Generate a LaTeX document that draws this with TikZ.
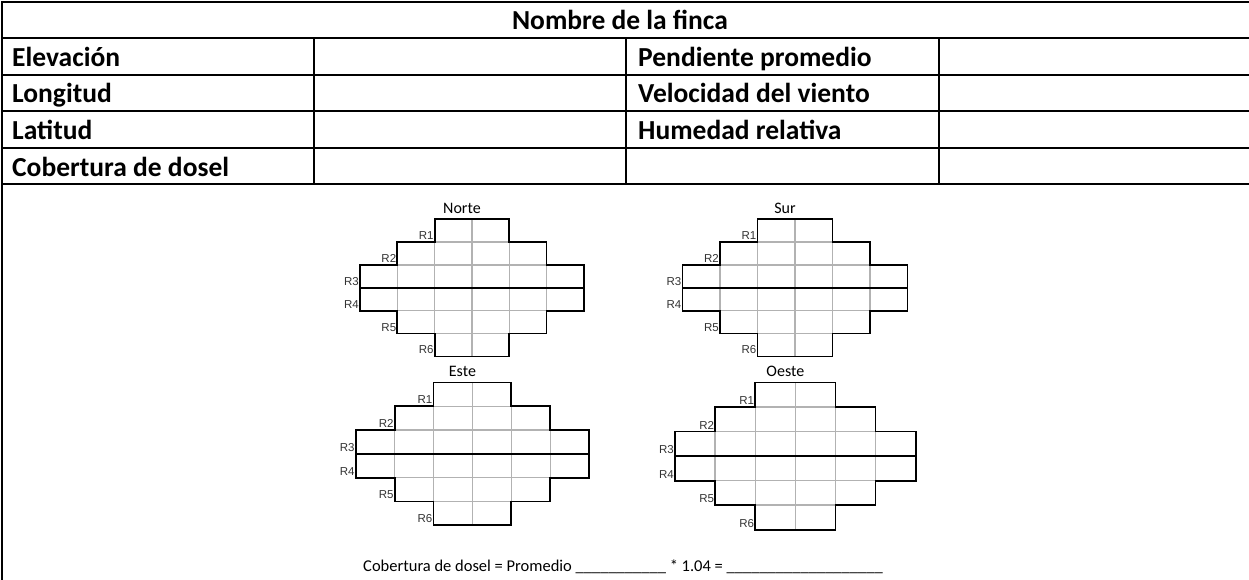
\documentclass[tikz,border=0pt]{standalone}
\usepackage{fontspec}
\setmainfont{Carlito}
\newfontfamily\arialfont{Liberation Sans}
\usetikzlibrary{matrix}
\newcommand*\rulewd{2pt}
\newcommand*\gridwd{1.5pt}
\tikzset{
    formline/.style  = {line width=\rulewd, line cap=rect},
    fieldlabel/.style = {anchor=base west, inner sep=0pt,
                    font=\fontsize{27.5}{30}\selectfont\bfseries},
    headlabel/.style = {fieldlabel, anchor=base},
    cell/.style   = {draw=gray!60, line width=\gridwd, rectangle,
                    inner sep=0pt, outer sep=0pt},
    blank/.style  = {draw=none},
    rowlabel/.style = {anchor=base east, inner sep=0pt, xshift=-1pt, yshift=2.5pt,
                    font=\arialfont\fontsize{11.5}{13}\selectfont, text=black!80},
    dirlabel/.style = {anchor=base, inner sep=0pt, xshift=-10pt, yshift=6pt,
                    font=\fontsize{16}{18}\selectfont},
    outline/.style = {line width=1.8pt, line join=miter},
    gridmatrix/.style = {
        matrix of nodes,
        nodes   = {cell},
        column sep=-\gridwd, row sep=-\gridwd,         % shared cell borders
        inner sep=0pt, outer sep=0pt, anchor=north west,
        ampersand replacement=\&,                      % matrix inside \foreach
        nodes in empty cells,                          % draw every entry
    },
  }
\begin{document}
\begin{tikzpicture}[x=1pt,y=-1pt]
        \useasboundingbox (0,0) rectangle (1249,580);

        % form table: rows and columns
        \foreach \y in {2,38.5,75,111.5,148,184.5} {
            \draw[formline] (2,\y) -- (1249,\y);
        }
        \draw[formline] (2,2) -- (2,580);
        \foreach \x in {314,626,939} {
            \draw[formline] (\x,38.5) -- (\x,184.5);
        }

        % table texts
        \node (finca) [headlabel] at (620,29.5) {Nombre de la finca};
        \foreach \t [count=\i from 0] in {Elevación,Longitud,Latitud,Cobertura de dosel} {
            \node (left-\i) [fieldlabel] at (12,66.5+36.5*\i) {\t};
        }
        \foreach \t [count=\i from 0] in {Pendiente promedio,Velocidad del viento,Humedad relativa} {
            \node (right-\i) [fieldlabel] at (638,66.5+36.5*\i) {\t};
        }

        % the four canopy grids, named N, S, E and O
        \foreach \g/\x/\y/\w/\h/\d in {N/359.3/218.3/37.3/22.9/Norte,
                                        S/681.7/218.3/37.5/22.9/Sur,
                                        E/355/381.7/38.9/23.8/Este,
                                        O/674.3/381.7/40.1/24.55/Oeste} {
            \matrix (\g) [gridmatrix, nodes={minimum width=\w pt, minimum height=\h pt}] at (\x,\y) {
                % row 1
                |[blank]| \& |[blank]| \& \& \& |[blank]| \& |[blank]| \\
                % row 2
                |[blank]| \& \& \& \& \& |[blank]| \\
                % rows 3 and 4
                \& \& \& \& \& \\
                \& \& \& \& \& \\
                % row 5
                |[blank]| \& \& \& \& \& |[blank]| \\
                % row 6
                |[blank]| \& |[blank]| \& \& \& |[blank]| \& |[blank]| \\
            };

            % heavy outline and middle line
            \draw[outline] (\g-1-3.north west) -- (\g-1-4.north east) -- (\g-1-4.south east)
                -- (\g-2-5.north east) -- (\g-2-5.south east) -- (\g-3-6.north east)
                -- (\g-4-6.south east) -- (\g-5-5.north east) -- (\g-5-5.south east)
                -- (\g-6-4.north east) -- (\g-6-4.south east) -- (\g-6-3.south west)
                -- (\g-6-3.north west) -- (\g-5-2.south west) -- (\g-5-2.north west)
                -- (\g-4-1.south west) -- (\g-3-1.north west) -- (\g-2-2.south west)
                -- (\g-2-2.north west) -- (\g-1-3.south west) -- cycle;
            \draw[outline] (\g-3-1.south west) -- (\g-3-6.south east);

            % direction title above the grid
            \node (\g-title) [dirlabel] at (\g-1-3.north east) {\d};

            % row labels: attach LEFT of the first cell of each row
            \foreach \r/\c in {1/3,2/2,3/1,4/1,5/2,6/3} {
                \node (\g-r\r) [rowlabel] at (\g-\r-\c.south west) {R\r};
            }
        }

        % formula line
        \node (formula) [anchor=base west, inner sep=0pt, font=\fontsize{16.5}{20}\selectfont]
            at (363,571.5) {Cobertura de dosel = Promedio \_\_\_\_\_\_\_\_\_\_\_ * 1.04 = \_\_\_\_\_\_\_\_\_\_\_\_\_\_\_\_\_\_\_};
    \end{tikzpicture}
\end{document}
